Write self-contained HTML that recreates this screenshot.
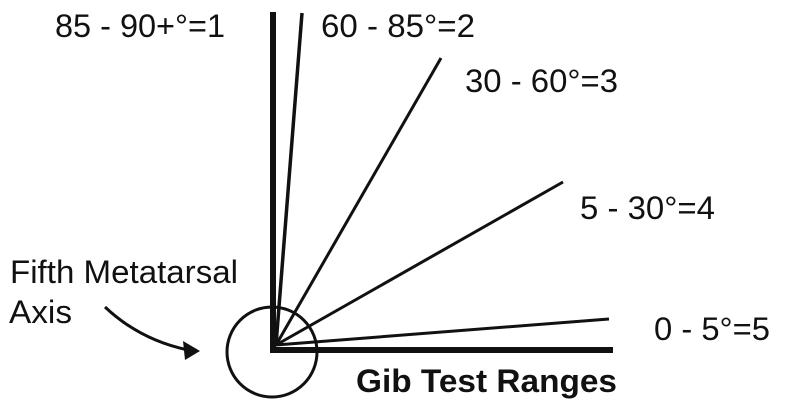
<!DOCTYPE html>
<html><head><style>body{margin:0;background:#fff}svg{display:block}text{font-family:"Liberation Sans",Arial,sans-serif;fill:#111}</style></head>
<body><svg width="800" height="413" viewBox="0 0 800 413">
<g stroke="#111" fill="none" stroke-linecap="butt">
<line x1="273" y1="353" x2="273" y2="12" stroke-width="6"/>
<line x1="270" y1="350" x2="613" y2="350" stroke-width="6"/>
<line x1="276" y1="345" x2="302" y2="13" stroke-width="3.5"/>
<line x1="276" y1="345" x2="441" y2="58" stroke-width="3"/>
<line x1="276" y1="345" x2="563" y2="182" stroke-width="3"/>
<line x1="276" y1="345" x2="609" y2="319" stroke-width="3"/>
<circle cx="272" cy="352" r="45" stroke-width="3"/>
<path d="M105 307 Q140 340 188 350" stroke-width="3"/>
</g>
<polygon points="200,351 183,341 185,360" fill="#111"/>
<g font-size="32">
<text x="55" y="37" textLength="170" lengthAdjust="spacingAndGlyphs">85 - 90+°=1</text>
<text x="321" y="37" textLength="154" lengthAdjust="spacingAndGlyphs">60 - 85°=2</text>
<text x="465" y="92" textLength="153" lengthAdjust="spacingAndGlyphs">30 - 60°=3</text>
<text x="580" y="219" textLength="135" lengthAdjust="spacingAndGlyphs">5 - 30°=4</text>
<text x="654" y="340" textLength="116" lengthAdjust="spacingAndGlyphs">0 - 5°=5</text>
<text x="10" y="283" textLength="228" lengthAdjust="spacingAndGlyphs">Fifth Metatarsal</text>
<text x="9" y="323" textLength="63" lengthAdjust="spacingAndGlyphs">Axis</text>
<text x="356" y="392" font-weight="bold" textLength="261" lengthAdjust="spacingAndGlyphs">Gib Test Ranges</text>
</g>
</svg></body></html>
